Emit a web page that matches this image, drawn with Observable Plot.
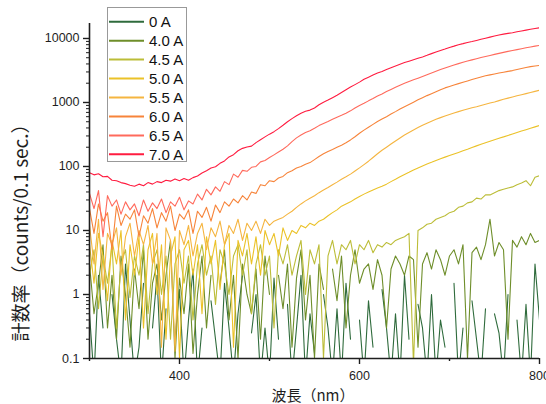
<!DOCTYPE html>
<html><head><meta charset="utf-8">
<script src="https://cdn.jsdelivr.net/npm/d3@7"></script>
<script src="https://cdn.jsdelivr.net/npm/@observablehq/plot@0.6"></script>
<style>
html,body{margin:0;padding:0;background:#fff;}
#wrap{position:relative;width:546px;height:404px;overflow:hidden;background:#fff;}
#wrap svg{position:absolute;left:0;top:0;}
</style>
</head><body>
<div id="wrap"></div>
<script>
// wavelength grid (nm), 5 nm sampling
const wavelengths = d3.range(300, 801, 5);

const seriesNames = ["0 A","4.0 A","4.5 A","5.0 A","5.5 A","6.0 A","6.5 A","7.0 A"];
const seriesColors = ["#2f6b3c","#6e8e2a","#bcbd38","#ebc228","#f5b540","#f7843a","#ff6a5c","#ff1c40"];

const s0A = [
0.5,0.05,2,0.3,0,1,0.2,0.05,3,0.4,
0.05,0.15,1.5,0,0.3,2,0.05,0.6,0,0.2,
1.2,0.05,0.4,2.5,0.05,0.3,0,0.8,0.2,0.05,
1.5,0.3,0.05,0.5,2,0,0.25,1,0.05,0.3,
0.05,1.8,0.2,0,0.7,0.05,0.3,2,0.05,0.5,
0.12,0,1,0.3,0.05,0.6,0.05,1.5,0.2,0,
0.4,0.05,0.8,0.15,0,1.2,0.3,0.05,0.5,0.05,
2,0.2,0,0.7,0.3,0.05,1,0.05,0.4,0.15,
0,1.5,0.05,0.3,0,0.8,0.2,0.05,0.6,0,
0.5,0.25,0.05,1,0,0.4,0.05,0.7,0.05,3,
0.4];
const s40A = [
3,0.5,1.5,6,0.3,2,0.2,4,1,0.15,
2.5,0.6,5,0.2,1.5,3,0.4,2,7,0.1,
1.8,0.5,3,0.12,1,4,0.3,2,0,1.5,
5,0.4,2,0.1,3,1,0.5,2.5,0.2,4,
1,0,2,0.6,3,0.15,1.8,5,0.4,2,
0.1,3,1.2,0,2.5,0.8,4,0.3,2,5,
1.5,2.5,3,1.2,3.5,2,0.3,2.5,4,3,
2,4,3.5,0.15,3,4.5,2.5,5,3.5,2,
4,5,3,6,0.1,4.5,5.5,3.5,6,15,
4,6.5,5,0.2,7,5.5,8,6,9,6.5,
7];
const s45A = [
2,5,0.6,4,1.5,6,0.3,3,5,0.9,
4,2,6,0.5,3,5,1,4,0.2,3,
5,1.5,4,0.4,3,6,2,4,0.7,5,
3,1,4,6,2,5,0.5,3,6,2,
4,0.3,5,3,6,2,4,7,1,5,
3,6,0.1,4,7,3,6,5,7,3,
6,5,7,4.5,6,5.5,6.5,6,7,7.5,
8,9,0.08,10,11,12.5,13,15,16,17,
19,20,23,24,27,28,32,31,36,36,
39,42,44,46,48,52,55,60,50,68,
72];
const s50A = [
6,1.5,9,4,0.8,7,3,10,0.4,6,
2,8,0.3,5,9,1,6,0.2,4,8,
0.1,5,7,2,6,0.5,8,3,7,1.2,
6,9,0.15,7,4,9,3,8,2,10,
6,9,4,11,7,10,9,12,11,13,
12,14,15,17,19,21,24,26,28,31,
34,37,40,43,46,49,53,58,63,69,
75,81,88,95,102,109,116,124,132,140,
148,157,166,176,186,198,210,222,235,248,
262,276,290,306,322,340,358,376,396,416,
437];
const s55A = [
12,3,15,1.2,9,6,11,2,8,13,
4,10,6,12,3,9,0.15,11,7,0.13,
10,6,12,4,9,13,5,11,8,14,
6,12,9,15,7,13,10,14,9,15,
12,14,15,16,18,20,23,26,29,32,
35,39,43,47,52,57,63,69,76,85,
95,107,121,138,158,179,200,224,250,279,
310,340,372,405,440,475,510,545,580,615,
650,685,720,755,790,825,860,900,940,980,
1020,1070,1120,1170,1220,1270,1320,1375,1430,1490,
1550];
const s60A = [
22,9,26,14,19,5,24,12,18,15,
21,8,17,13,22,11,19,14,24,10,
18,15,21,9,20,16,23,14,25,19,
28,24,31,27,35,30,40,38,52,50,
60,58,66,70,80,86,95,100,108,115,
128,143,158,172,185,200,215,235,260,292,
330,370,410,455,505,550,600,660,720,790,
860,930,1010,1100,1190,1280,1370,1470,1580,1690,
1780,1880,1970,2070,2170,2280,2390,2500,2610,2700,
2790,2880,2970,3060,3150,3280,3400,3520,3630,3720,
3800];
const s65A = [
38,22,42,8,35,24,30,18,28,21,
26,17,30,20,27,22,31,19,28,24,
33,21,29,26,37,30,44,36,48,41,
58,52,76,68,87,84,97,100,118,124,
138,152,168,186,210,245,280,310,340,362,
395,435,470,505,545,590,630,680,740,820,
900,970,1060,1150,1260,1360,1480,1600,1730,1860,
1990,2130,2260,2400,2550,2720,2900,3080,3270,3460,
3650,3860,4050,4250,4440,4630,4820,5030,5230,5430,
5640,5850,6070,6290,6480,6700,6920,7150,7380,7600,
7800];
const s70A = [
80,74,77,69,70,61,60,56,54,51,
49,53,50,56,53,58,56,61,59,64,
60,65,61,67,71,79,86,95,99,112,
122,141,153,176,192,201,208,236,262,290,
320,350,390,440,500,560,620,680,730,760,
820,920,1010,1090,1190,1300,1430,1580,1740,1900,
2080,2300,2480,2680,2880,3050,3280,3500,3720,3950,
4200,4420,4650,4900,5150,5450,5800,6150,6500,6850,
7250,7600,8000,8300,8650,8950,9300,9700,10100,10500,
10900,11300,11700,12000,12300,12700,13100,13500,13900,14300,
14700];
const seriesValues = [s0A,s40A,s45A,s50A,s55A,s60A,s65A,s70A];

const xDomain = [300, 800];
const yDomain = [0.1, 17140];
const xMajor = [400, 600, 800];
const xTickLabels = ["400", "600", "800"];
const xMinor = [300, 500, 700];
const yMajor = [0.1, 1, 10, 100, 1000, 10000];
const yTickLabels = ["0.1", "1", "10", "100", "1000", "10000"];
const yMinor = [];
for (const dec of [0.1, 1, 10, 100, 1000, 10000])
  for (const k of [2,3,4,5,6,7,8,9]) if (dec*k <= yDomain[1]) yMinor.push(+(dec*k).toPrecision(3));

const xTitle = "波長（nm）";
const yTitle = "計数率（counts/0.1 sec.）";

const rows = [];
seriesNames.forEach((name, k) => {
  seriesValues[k].forEach((v, i) => rows.push({nm: wavelengths[i], v: v > 0 ? v : NaN, s: name}));
});

const xLab = new Map(xMajor.map((d, i) => [d, xTickLabels[i]]));
const yLab = new Map(yMajor.map((d, i) => [d, yTickLabels[i]]));
const axisFont = "'Liberation Sans', Arial, sans-serif";
const ink = "#1e1e1e";

const chart = Plot.plot({
  width: 546, height: 404,
  marginLeft: 89, marginRight: 7, marginTop: 23, marginBottom: 46,
  style: {fontFamily: axisFont, fontSize: "12.5px", color: ink, background: "#fff"},
  x: {domain: xDomain},
  y: {type: "log", domain: yDomain},
  color: {domain: seriesNames, range: seriesColors},
  marks: [
    Plot.line(rows, {x: "nm", y: "v", z: "s", stroke: "s", strokeWidth: 1.1, clip: true}),
    Plot.ruleX([xDomain[0]], {stroke: ink, strokeWidth: 1.6}),
    Plot.ruleY([yDomain[0]], {stroke: ink, strokeWidth: 1.6}),
    Plot.axisX(xMajor, {tickSize: 6, tickPadding: 7, tickFormat: d => xLab.get(d), label: null, stroke: ink, strokeWidth: 1.4, fill: ink}),
    Plot.axisX(xMinor, {tickSize: 3, tickFormat: () => "", label: null, stroke: ink, strokeWidth: 1.4}),
    Plot.axisY(yMajor, {tickSize: 6, tickPadding: 4, tickFormat: d => yLab.get(d), label: null, stroke: ink, strokeWidth: 1.4, fill: ink}),
    Plot.axisY(yMinor, {tickSize: 3, tickFormat: () => "", label: null, stroke: ink, strokeWidth: 1})
  ]
});
const wrap = document.getElementById("wrap");
wrap.appendChild(chart);

// overlay: axis titles and legend
const ov = d3.select(wrap).append("svg").attr("width", 546).attr("height", 404)
  .style("pointer-events", "none");
ov.append("text").text(xTitle)
  .attr("x", 313).attr("y", 394).attr("text-anchor", "middle").attr("dominant-baseline", "central")
  .attr("font-family", "'Noto Sans CJK JP', sans-serif").attr("font-size", 15).attr("fill", ink);
ov.append("text").text(yTitle)
  .attr("transform", "translate(19,228) rotate(-90)").attr("text-anchor", "middle").attr("dominant-baseline", "central")
  .attr("font-family", "'Noto Sans CJK JP', sans-serif").attr("font-size", 19).attr("fill", ink);

const lg = ov.append("g");
lg.append("rect").attr("x", 107.5).attr("y", 7.5).attr("width", 79).attr("height", 154)
  .attr("fill", "#fff").attr("stroke", "#999").attr("stroke-width", 1);
seriesNames.forEach((name, i) => {
  const cy = 21.7 + i * 18.95;
  lg.append("line").attr("x1", 109).attr("x2", 144).attr("y1", cy).attr("y2", cy)
    .attr("stroke", seriesColors[i]).attr("stroke-width", 2);
  lg.append("text").text(name).attr("x", 149).attr("y", cy).attr("dominant-baseline", "central")
    .attr("font-family", axisFont).attr("font-size", 15).attr("fill", "#111");
});
</script>
</body></html>
